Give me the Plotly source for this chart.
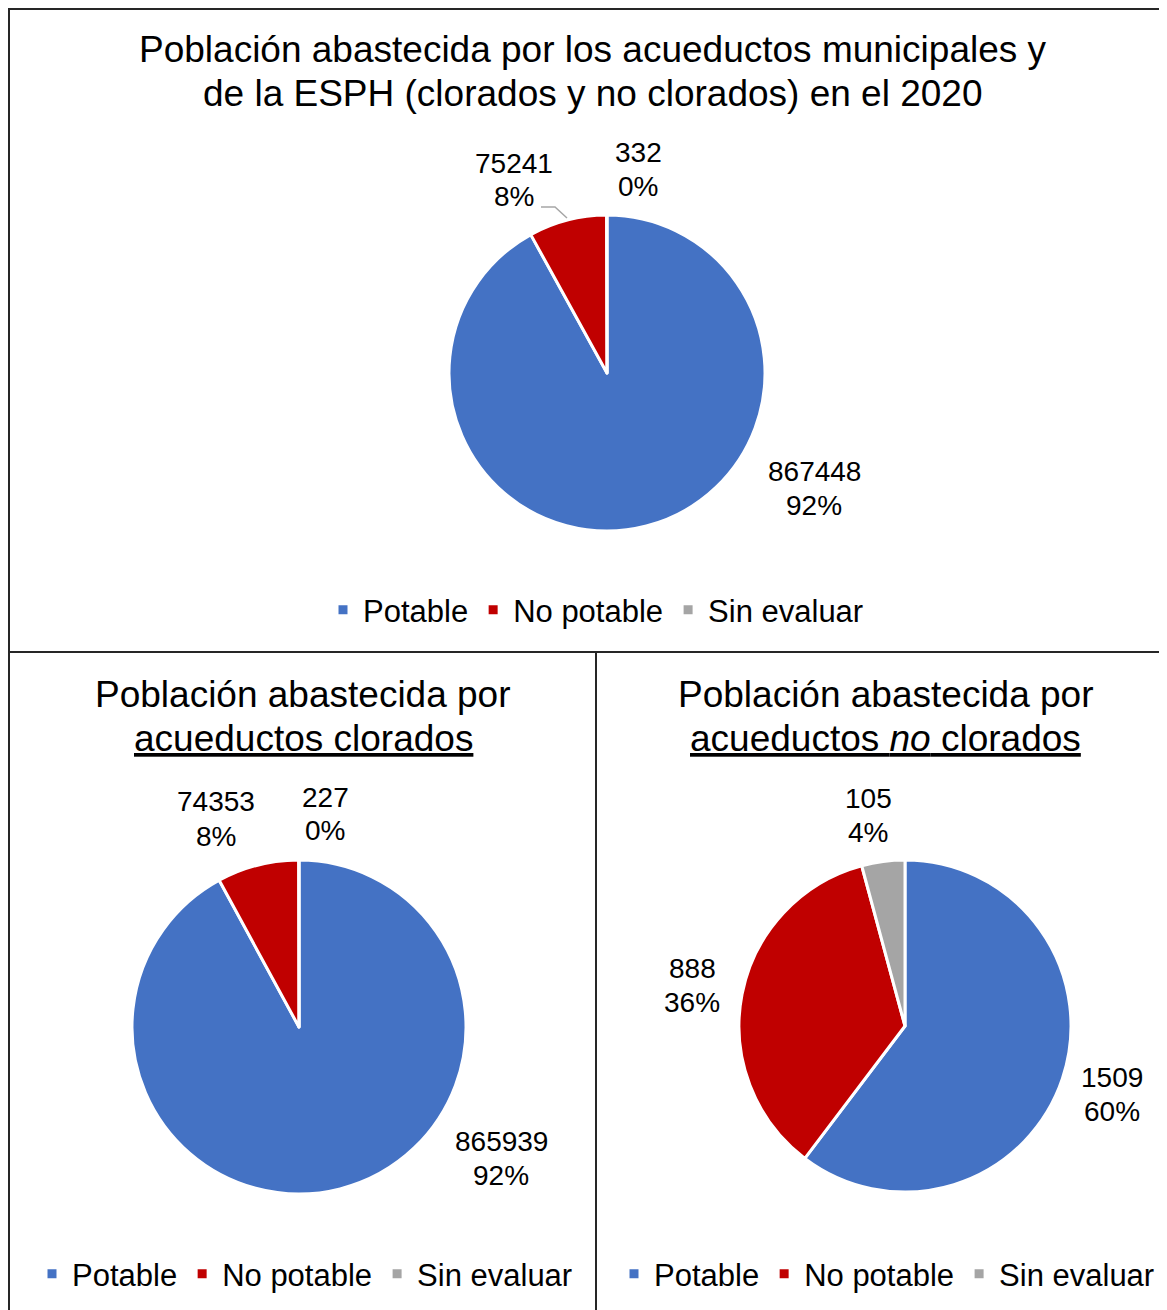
import plotly.graph_objects as go

# ---------------- data ----------------
categories = ["Potable", "No potable", "Sin evaluar"]
total_values = [867448, 75241, 332]
clorados_values = [865939, 74353, 227]
no_clorados_values = [1509, 888, 105]
total_pct = ["92%", "8%", "0%"]
clorados_pct = ["92%", "8%", "0%"]
no_clorados_pct = ["60%", "36%", "4%"]
colors = ["#4472C4", "#C00000", "#A5A5A5"]

title_top = ["Población abastecida por los acueductos municipales y",
             "de la ESPH (clorados y no clorados) en el 2020"]
title_left = ["Población abastecida por", "<u>acueductos clorados</u>"]
title_right = ["Población abastecida por", "<u>acueductos <i>no</i> clorados</u>"]

# ---------------- layout helpers ----------------
OFF = 8
W, H = 1159, 1302
FONT = "Liberation Sans, Arial, sans-serif"


def px(x):
    return (x - OFF) / W


def py(y):
    return 1 - (y - OFF) / H


def dom(cx, cy, r):
    return dict(x=[px(cx - r), px(cx + r)], y=[py(cy + r), py(cy - r)])


fig = go.Figure()

pies = [
    (total_values, total_pct, dom(607, 373, 158), "legend",
     [(814, 488), (514, 180), (638, 170)]),
    (clorados_values, clorados_pct, dom(299, 1027, 167), "legend2",
     [(501, 1158), (216, 819), (325, 814)]),
    (no_clorados_values, no_clorados_pct, dom(905, 1026, 166), "legend3",
     [(1112, 1094), (692, 985), (868, 815)]),
]

annotations = []
for k, (vals, pcts, d, leg, lab_pos) in enumerate(pies):
    # invisible suffix keeps each pie's legend entries separate
    labels = [c + "\u200b" * k for c in categories]
    fig.add_trace(go.Pie(
        labels=labels, values=vals, domain=d, sort=False,
        direction="clockwise", rotation=0,
        marker=dict(colors=colors, line=dict(color="white", width=3)),
        textinfo="none", hoverinfo="label+value+percent",
        legend=leg, showlegend=True,
    ))
    for v, p, (x, y) in zip(vals, pcts, lab_pos):
        for t, dy in ((str(v), -17), (p, 17)):
            annotations.append(dict(
                x=px(x), y=py(y + dy), xref="paper", yref="paper",
                text=t, showarrow=False,
                xanchor="center", yanchor="middle",
                font=dict(family=FONT, size=28, color="black"),
            ))

# titles
for (lines, cx, ys) in [(title_top, 593, [50, 94]),
                        (title_left, 303, [694, 738]),
                        (title_right, 886, [694, 738])]:
    for t, y in zip(lines, ys):
        annotations.append(dict(
            x=px(cx), y=py(y), xref="paper", yref="paper", text=t,
            showarrow=False, xanchor="center", yanchor="middle",
            font=dict(family=FONT, size=37, color="black"),
        ))

line_style = dict(color="#262626", width=2)
shapes = [
    dict(type="line", xref="paper", yref="paper", x0=px(8), x1=1, y0=py(9), y1=py(9), line=line_style),
    dict(type="line", xref="paper", yref="paper", x0=px(9), x1=px(9), y0=py(8), y1=0, line=line_style),
    dict(type="line", xref="paper", yref="paper", x0=px(8), x1=1, y0=py(652), y1=py(652), line=line_style),
    dict(type="line", xref="paper", yref="paper", x0=px(596), x1=px(596), y0=py(652), y1=0, line=line_style),
    # leader line for small label
    dict(type="path", xref="paper", yref="paper",
         path=f"M {px(541)},{py(207)} L {px(555)},{py(207)} L {px(567)},{py(218)}",
         line=dict(color="#A6A6A6", width=1.5)),
]

leg_common = dict(orientation="h", xanchor="center", yanchor="middle",
                  font=dict(family=FONT, size=31, color="black"),
                  bgcolor="rgba(0,0,0,0)", itemwidth=30, tracegroupgap=0)

fig.update_layout(
    width=W, height=H,
    margin=dict(l=0, r=0, t=0, b=0),
    paper_bgcolor="white", plot_bgcolor="white",
    annotations=annotations, shapes=shapes,
    legend=dict(x=px(596), y=py(610), **leg_common),
    legend2=dict(x=px(305), y=py(1274), **leg_common),
    legend3=dict(x=px(887), y=py(1274), **leg_common),
)

fig.write_html("out.html")
